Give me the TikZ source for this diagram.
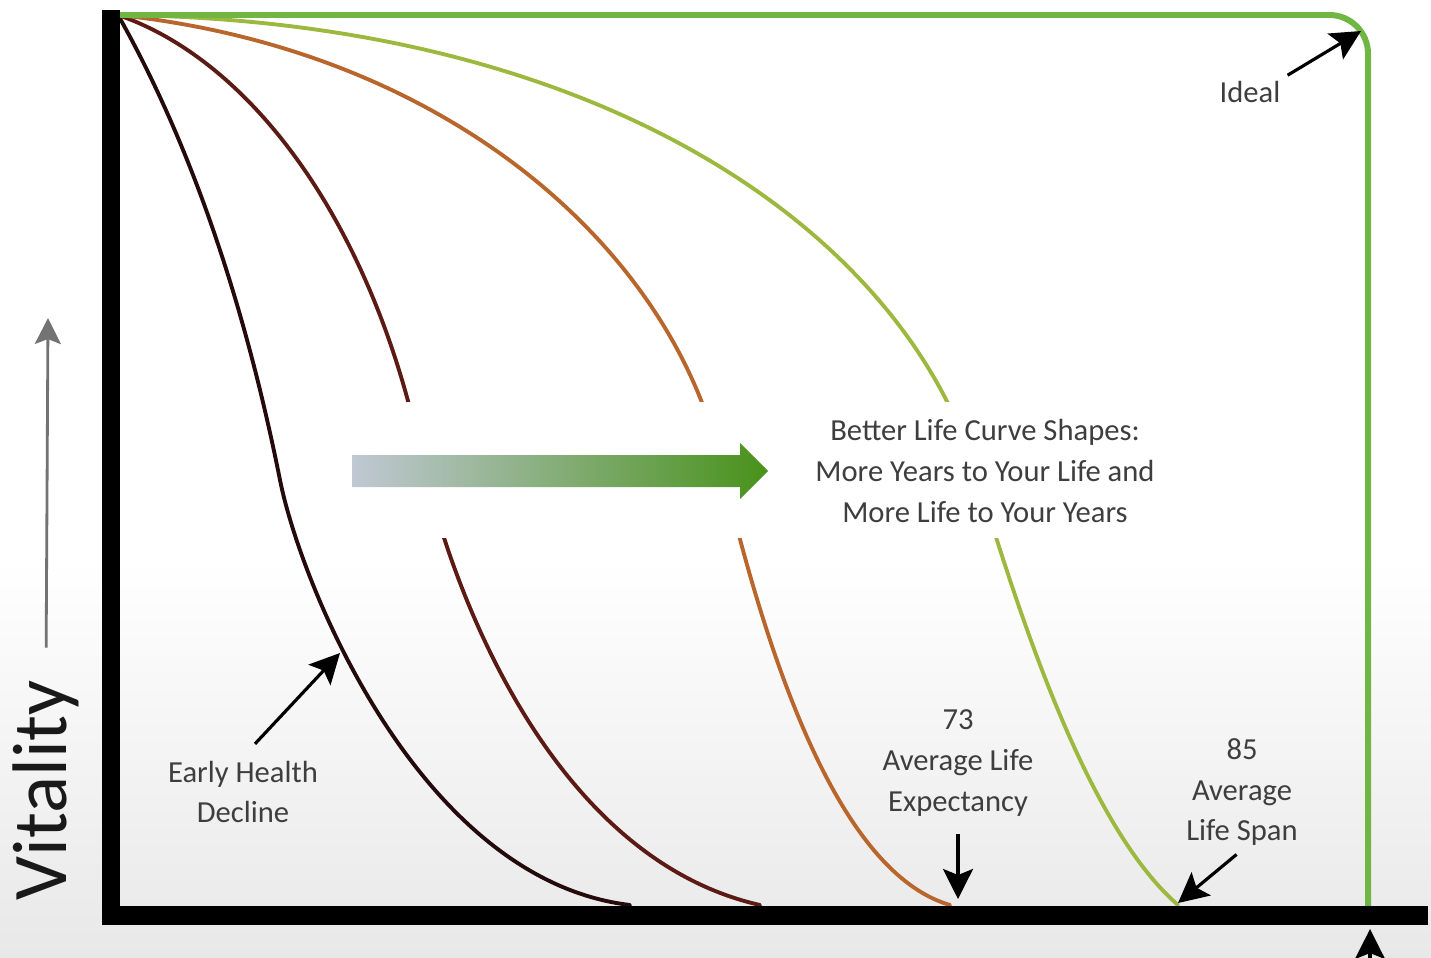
\documentclass[tikz,border=0pt]{standalone}
\usepackage{fontspec}
\setmainfont{Carlito}
\usetikzlibrary{positioning}
\usetikzlibrary{arrows.meta}

\definecolor{curvaA}{RGB}{36,10,10}
\definecolor{curvaB}{RGB}{92,26,20}
\definecolor{curvaC}{RGB}{184,102,44}
\definecolor{curvaD}{RGB}{156,184,62}
\definecolor{ideal}{RGB}{112,182,66}
\definecolor{texto}{RGB}{62,62,62}
\definecolor{flechaA}{RGB}{192,200,212}
\definecolor{flechaM}{RGB}{168,184,140}
\definecolor{flechaB}{RGB}{72,146,26}

\begin{document}
\begin{tikzpicture}[x=0.01cm, y=-0.01cm,
    every node/.style={text=texto, font=\fontsize{8.7}{11.6}\selectfont, align=center, inner sep=1pt},
    curva/.style={line width=1.1pt, line cap=round},
    nota/.style={-{Stealth[length=3mm, width=3mm, inset=0.6mm]}, line width=0.9pt, black}]
              \useasboundingbox (0,0) rectangle (1431,957);
              \clip (0,0) rectangle (1431,957);
              \shade[top color=white, bottom color=black!9] (0,560) rectangle (1431,957);

              % Curvas
              \draw[curva, curvaA] (118,15) .. controls (200,160) and (250,330) .. (280,480)
                                             .. controls (301,585) and (420,880) .. (630,905);
              \draw[curva, curvaB] (118,15) .. controls (250,60) and (370,220) .. (420,450)
                                             .. controls (455,610) and (560,860) .. (760,905);
              \draw[curva, curvaC] (118,15) .. controls (450,50) and (670,250) .. (720,460)
                                             .. controls (760,628) and (830,870) .. (950,905);
              \draw[curva, curvaD] (118,15) .. controls (600,20) and (900,230) .. (975,470)
                                             .. controls (1010,582) and (1080,820) .. (1178,905);
              \fill[white] (340,402) rectangle (1160,538);

              % Ideal
              \draw[ideal, line width=1.7pt, rounded corners=11pt] (118,15) -- (1368,15) -- (1368,915);

              % Ejes
              \draw[black, line width=5.4pt] (111,10) -- (111,915) -- (1428,915);

              % Flecha central
              \shade[left color=flechaA, middle color=flechaM, right color=flechaB] (352,455) -- (740,455) -- (740,443) -- (768,471) -- (740,499) -- (740,487) -- (352,487) -- cycle;

              % Etiquetas
              \node[rotate=90, font=\fontsize{22}{26}\selectfont, text=black!90] (vitalidad) at (46,790) {Vitality};
              \node (ideallbl) at (1250,92) {Ideal};
              \node (mejor) at (985,471) {Better Life Curve Shapes:\\More Years to Your Life and\\More Life to Your Years};
              \node (temprano) at (243,792) {Early Health\\Decline};
              \node (esperanza) at (958,763) {73\\Average Life\\Expectancy};
              \node (lapso) at (1242,792) {85\\Average\\Life Span};

              % Puntas
              \coordinate (vitaltip) at (48,318);
              \coordinate (idealtip) at (1361,31);
              \coordinate (tempranotip) at (340,653);
              \coordinate (esperanzatip) at (958,899);
              \coordinate (lapsotip) at (1178,903);
              \coordinate (abajo) at (1370,1010);
              \coordinate (abajotip) at (1370,929);

              % Flechas
              \draw[-{Stealth[length=2.6mm, width=2.6mm, inset=0.5mm]}, line width=0.8pt, black!55, shorten <=8pt] (vitalidad.east) -- (vitaltip);
              \draw[nota, shorten <=1pt] (ideallbl.north east) -- (idealtip);
              \draw[nota, shorten <=5pt] (temprano.north) -- (tempranotip);
              \draw[nota, shorten <=4pt] (esperanza.south) -- (esperanzatip);
              \draw[nota, shorten <=2pt] (lapso.south) -- (lapsotip);
              \draw[nota] (abajo) -- (abajotip);
            \end{tikzpicture}
\end{document}
